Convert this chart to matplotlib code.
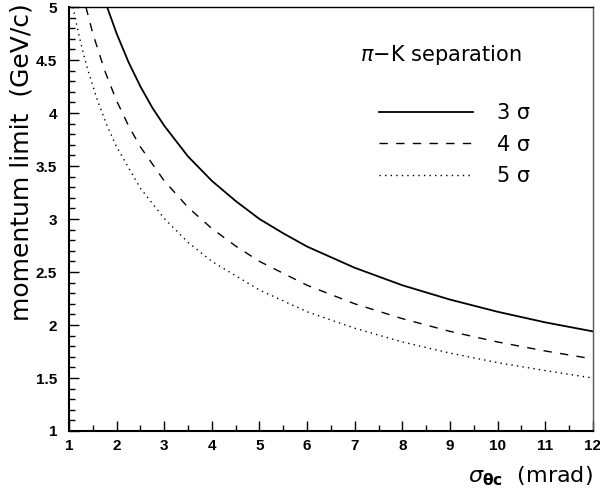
import numpy as np
import matplotlib
matplotlib.use('Agg')
import matplotlib.pyplot as plt
from matplotlib.ticker import MultipleLocator

# sigma_theta_c (mrad) and momentum limit (GeV/c)
x_3sig = [1.8, 2.0, 2.25, 2.5, 2.75, 3.0, 3.5, 4.0, 4.5, 5.0, 5.5, 6.0, 7.0, 8.0, 9.0, 10.0, 11.0, 12.0]
p_3sig = [5.0, 4.75, 4.48, 4.25, 4.05, 3.88, 3.59, 3.36, 3.17, 3.0, 2.865, 2.74, 2.54, 2.375, 2.24, 2.125, 2.025, 1.94]

x_4sig = [1.355, 1.5, 1.75, 2.0, 2.25, 2.5, 3.0, 3.5, 4.0, 4.5, 5.0, 6.0, 7.0, 8.0, 9.0, 10.0, 11.0, 12.0]
p_4sig = [5.0, 4.75, 4.40, 4.115, 3.88, 3.68, 3.36, 3.11, 2.91, 2.745, 2.60, 2.375, 2.20, 2.06, 1.94, 1.84, 1.755, 1.68]

x_5sig = [1.084, 1.2, 1.3, 1.4, 1.6, 1.8, 2.0, 2.5, 3.0, 3.5, 4.0, 5.0, 6.0, 7.0, 8.0, 9.0, 10.0, 11.0, 12.0]
p_5sig = [5.0, 4.75, 4.565, 4.40, 4.115, 3.88, 3.68, 3.29, 3.005, 2.78, 2.60, 2.33, 2.125, 1.97, 1.84, 1.735, 1.645, 1.57, 1.50]

labels = ['3 \u03c3', '4 \u03c3', '5 \u03c3']
ytick_labels = ['1', '1.5', '2', '2.5', '3', '3.5', '4', '4.5', '5']


def main():
    fig = plt.figure(figsize=(6.0, 4.91), dpi=100)
    ax = fig.add_axes([0.115, 0.1222, 0.873, 0.8635])

    ax.plot(x_3sig, p_3sig, '-', c='black', lw=1.3, label=labels[0])
    ax.plot(x_4sig, p_4sig, c='black', lw=1.0, ls=(0, (6, 6)), label=labels[1])
    ax.plot(x_5sig, p_5sig, c='black', lw=1.0, ls=(0, (1, 3)), label=labels[2])

    ax.set_xlim(1, 12)
    ax.set_ylim(1, 5)
    ax.xaxis.set_major_locator(MultipleLocator(1))
    ax.xaxis.set_minor_locator(MultipleLocator(0.5))
    ax.yaxis.set_minor_locator(MultipleLocator(0.1))
    ax.set_yticks(np.arange(1, 5.01, 0.5))
    ax.set_yticklabels(ytick_labels)

    ax.tick_params(which='both', direction='in', top=False, right=False,
                   width=1.0, labelsize=11)
    ax.tick_params(which='major', length=7)
    ax.tick_params(which='minor', length=4)
    ax.tick_params(axis='x', pad=6)
    ax.tick_params(axis='y', pad=8.5)
    for lab in ax.get_xticklabels() + ax.get_yticklabels():
        lab.set_fontweight('bold')
        lab.set_family('Liberation Sans')

    ax.spines['bottom'].set_linewidth(1.5)
    ax.spines['left'].set_linewidth(1.5)
    ax.spines['top'].set_linewidth(1.0)
    ax.spines['right'].set_linewidth(1.0)
    ax.spines['right'].set_color('#555555')

    ax.set_ylabel('momentum limit  (GeV/c)', fontsize=18, loc='top')
    ax.yaxis.set_label_coords(-0.0687, 1.0094)
    ax.set_xlabel('$\\sigma_{\\mathbf{\\theta c}}$  (mrad)', fontsize=16, loc='right', labelpad=8)

    ax.text(0.71, 0.887, '$\\pi$\u2212K separation', transform=ax.transAxes,
            ha='center', va='center', fontsize=15)
    ax.legend(loc='upper left', bbox_to_anchor=(0.575, 0.793), frameon=False,
              fontsize=15, handlelength=4.55, handletextpad=1.15, labelspacing=0.56,
              borderaxespad=0.0)

    fig.savefig('out.png', dpi=100)


if __name__ == '__main__':
    main()
